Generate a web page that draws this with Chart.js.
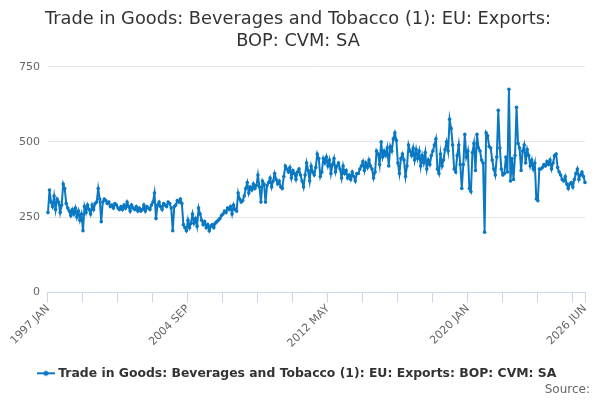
<!DOCTYPE html>
<html><head><meta charset="utf-8">
<script src="https://cdn.jsdelivr.net/npm/chart.js@4/dist/chart.umd.min.js"></script>
<style>html,body{margin:0;padding:0;background:#fff}</style>
</head><body>
<canvas id="c" width="600" height="400"></canvas>
<script>
const titleLines = ['Trade in Goods: Beverages and Tobacco (1): EU: Exports:', 'BOP: CVM: SA'];
const seriesName = 'Trade in Goods: Beverages and Tobacco (1): EU: Exports: BOP: CVM: SA';
const sourceText = 'Source:';
const monthNames = ['JAN','FEB','MAR','APR','MAY','JUN','JUL','AUG','SEP','OCT','NOV','DEC'];
const firstYear = 1997;
const lastYear = 2026;
const lastMonthCount = 6;
const yTicks = [0, 250, 500, 750];

const values1997_2000 = [
  265,340,300,285,320,275,310,300,265,290,360,345,
  295,280,270,255,275,260,280,250,270,240,260,205,
  285,265,290,275,260,290,275,295,300,345,310,235,
  300,310,305,295,300,285,290,280,295,290,280,275];
const values2001_2004 = [
  285,275,290,280,300,285,270,290,280,275,285,270,
  280,270,275,290,270,285,280,275,290,300,330,245,
  290,300,285,275,295,290,285,300,295,280,205,285,
  290,305,300,310,295,225,215,205,240,215,230,260];
const values2005_2008 = [
  230,245,220,280,260,240,225,235,215,225,205,220,
  225,215,230,235,240,245,255,260,270,265,280,275,
  285,260,290,275,270,330,310,300,305,320,345,365,
  330,350,340,360,345,355,390,350,300,370,360,300];
const values2009_2012 = [
  355,365,380,350,370,395,375,360,370,350,345,385,
  420,410,400,415,380,405,395,375,400,410,390,370,
  350,390,430,405,370,420,400,390,415,460,445,385,
  400,445,430,450,420,440,395,425,445,400,420,430];
const values2013_2016 = [
  410,380,420,395,405,380,390,375,400,385,370,395,
  395,410,420,435,405,430,415,440,420,410,380,400,
  470,460,425,500,450,470,455,480,420,485,470,510,
  530,505,430,395,445,460,440,385,420,490,470,455];
const values2017_2020 = [
  480,440,475,445,470,420,455,430,465,410,440,425,
  455,470,490,510,410,395,460,420,440,475,500,470,
  575,545,490,410,400,455,490,425,345,425,525,450,
  470,345,335,465,495,405,525,480,470,440,430,200];
const values2021_2026 = [
  530,520,485,480,440,410,390,450,605,480,410,390,
  395,450,400,675,370,445,375,455,615,495,480,405,
  470,490,430,475,455,420,440,410,430,310,305,410,
  410,415,425,420,435,425,440,410,430,455,460,415,
  400,390,375,370,385,360,345,360,365,350,375,395,
  410,375,390,400,385,365];

const values = [].concat(values1997_2000, values2001_2004, values2005_2008,
  values2009_2012, values2013_2016, values2017_2020, values2021_2026);

const categories = [];
for (let y = firstYear; y <= lastYear; y++) {
  const n = (y === lastYear) ? lastMonthCount : 12;
  for (let m = 0; m < n; m++) categories.push(y + ' ' + monthNames[m]);
}
const lastIdx = categories.length - 1;
const minorEvery = 23, labelEvery = 92;
const isTick = i => i % minorEvery === 0 || i === lastIdx;
const isLabel = i => i % labelEvery === 0 || i === lastIdx;

const lineColor = '#0a78c2';
// legend symbol: a short line with a dot
const sym = document.createElement('canvas');
sym.width = 18; sym.height = 8;
(function(){ const g = sym.getContext('2d');
  g.strokeStyle = lineColor; g.lineWidth = 2;
  g.beginPath(); g.moveTo(0,4); g.lineTo(18,4); g.stroke();
  g.fillStyle = lineColor; g.beginPath(); g.arc(9,4,2.5,0,Math.PI*2); g.fill(); })();

Chart.defaults.font.family = '"DejaVu Sans", sans-serif';

const sourcePlugin = {
  id: 'sourceNote',
  afterDraw(chart) {
    const g = chart.ctx;
    g.save();
    g.font = '12px "DejaVu Sans", sans-serif';
    g.fillStyle = '#666666';
    g.textAlign = 'right';
    g.textBaseline = 'middle';
    g.fillText(sourceText, chart.width - 10, chart.height - 10);
    g.restore();
  }
};

new Chart(document.getElementById('c'), {
  type: 'line',
  data: { labels: categories, datasets: [{
    label: seriesName, data: values,
    borderColor: lineColor, backgroundColor: lineColor,
    borderWidth: 2, pointRadius: 1.8, pointHoverRadius: 3,
    pointBackgroundColor: lineColor, pointBorderWidth: 0, tension: 0
  }]},
  options: {
    responsive: false, animation: false, devicePixelRatio: 1,
    layout: { padding: { left: 11, right: 15, top: 6, bottom: 10.5 } },
    plugins: {
      title: { display: true, text: titleLines, color: '#333333',
        font: { size: 17.8, weight: 'normal', lineHeight: 1.2 }, padding: { top: 3, bottom: 15 } },
      legend: { position: 'bottom', align: 'center',
        labels: { color: '#333333', font: { size: 12.4, weight: 'bold' }, usePointStyle: true,
          boxWidth: 18, boxHeight: 8, padding: 4,
          generateLabels: (chart) => {
            const items = Chart.defaults.plugins.legend.labels.generateLabels(chart);
            items.forEach(it => { it.pointStyle = sym; });
            return items;
          } } },
      tooltip: { enabled: false }
    },
    scales: {
      x: {
        afterFit: (s) => { s.height += 13; },
        grid: { drawOnChartArea: false, drawTicks: true, tickLength: 10,
          color: ctx => isTick(ctx.index) ? '#ccd6eb' : 'rgba(0,0,0,0)',
          lineWidth: ctx => isTick(ctx.index) ? 1 : 0 },
        border: { display: true, color: '#ccd6eb', width: 1 },
        ticks: { autoSkip: false, minRotation: 45, maxRotation: 45, color: '#666666',
          font: { size: 11 }, padding: 0,
          callback: (v, i) => isLabel(i) ? categories[i] : '' }
      },
      y: {
        min: 0, max: 750,
        afterBuildTicks: (s) => { s.ticks = yTicks.map(v => ({ value: v })); },
        grid: { color: '#e6e6e6', drawTicks: false },
        border: { display: false },
        ticks: { color: '#666666', font: { size: 11 }, padding: 8 }
      }
    }
  },
  plugins: [sourcePlugin]
});
</script>
</body></html>
